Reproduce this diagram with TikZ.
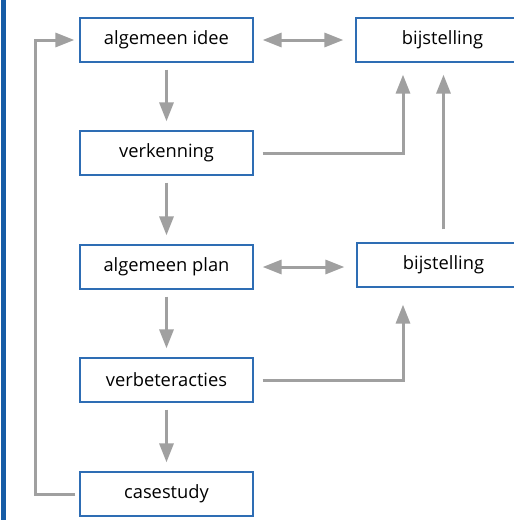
\documentclass[tikz,border=0pt]{standalone}
\usepackage{fontspec}
\setmainfont{Open Sans}
\usetikzlibrary{arrows.meta}

\definecolor{barblue}{RGB}{22,92,166}
\definecolor{boxblue}{RGB}{46,109,180}
\definecolor{arrowgray}{RGB}{160,160,160}

\begin{document}
\begin{tikzpicture}[x=1pt, y=-1pt,
    stap/.style={draw=boxblue, line width=1.2pt, fill=white, minimum width=173pt,
      minimum height=44pt, inner sep=0pt, font=\fontsize{18.3}{20}\selectfont},
    pijl/.style={draw=arrowgray, line width=3pt,
      -{Triangle[length=19pt, width=14pt]}},
    tweepijl/.style={draw=arrowgray, line width=3pt,
      {Triangle[length=19pt, width=14pt]}-{Triangle[length=19pt, width=14pt]}}]
  \clip (0,0) rectangle (514,520);
  \fill[barblue] (1,0) rectangle (6,520);
  \node[stap] (idee)    at (166.5, 40)  {algemeen idee};
  \node[stap] (verk)    at (166.5, 153) {verkenning};
  \node[stap] (plan)    at (166.5, 267) {algemeen plan};
  \node[stap] (verb)    at (166.5, 380) {verbeteracties};
  \node[stap] (case)    at (166.5, 494) {casestudy};
  \node[stap] (bijst1)  at (442.5, 40)  {bijstelling};
  \node[stap] (bijst2)  at (443.5, 265) {bijstelling};
  \draw[pijl, shorten <=7pt, shorten >=9pt] (idee) -- (verk);
  \draw[pijl, shorten <=7pt, shorten >=9pt] (verk) -- (plan);
  \draw[pijl, shorten <=7pt, shorten >=9pt] (plan) -- (verb);
  \draw[pijl, shorten <=7pt, shorten >=9pt] (verb) -- (case);
  \draw[tweepijl, shorten <=9pt, shorten >=12pt] (idee) -- (bijst1);
  \draw[tweepijl, shorten <=9pt, shorten >=12pt] (plan.east) -- (plan.east -| bijst2.west);
  \draw[pijl, shorten <=9pt, shorten >=12pt] (verk.east) -| ([xshift=-39.5]bijst1.south);
  \draw[pijl, shorten <=9pt, shorten >=17pt] (verb.east) -| ([xshift=-40.5]bijst2.south);
  \draw[pijl, shorten <=13pt, shorten >=12pt] (bijst2.north) -- (bijst1.south -| bijst2.north);
  \draw[pijl, shorten <=4pt, shorten >=5pt] (case.west) -- ++(-44,0) |- (idee.west);
\end{tikzpicture}
\end{document}
